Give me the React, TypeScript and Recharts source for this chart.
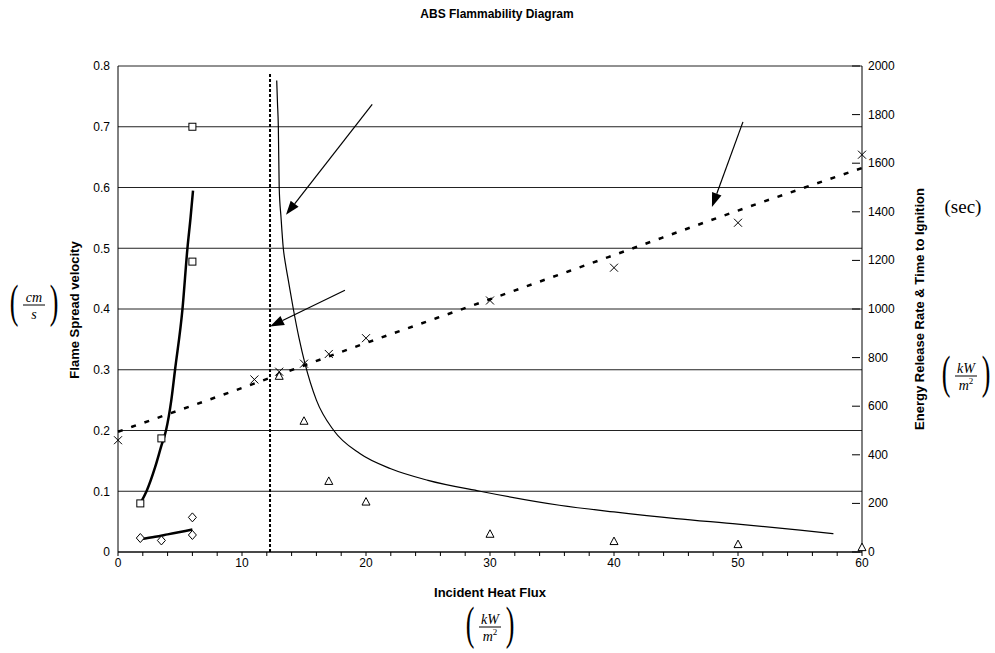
import React from "react";
import {
  ComposedChart,
  Line,
  Scatter,
  XAxis,
  YAxis,
  CartesianGrid,
  ReferenceLine,
} from "recharts";

// flame spread velocity (cm/s), left axis
const squareX = [1.8, 3.5, 6, 6];
const squareV = [0.08, 0.187, 0.478, 0.7];
const squareFitX = [1.8, 2.3, 3.0, 3.5, 3.87, 4.3, 4.6, 5.2, 5.6, 5.85, 6.05];
const squareFitV = [0.08, 0.1, 0.14, 0.175, 0.2, 0.25, 0.3, 0.4, 0.5, 0.55, 0.595];

const diamondX = [1.8, 3.5, 6, 6];
const diamondV = [0.023, 0.019, 0.028, 0.057];
const diamondFitX = [1.8, 3, 4, 5, 6];
const diamondFitV = [0.021, 0.025, 0.029, 0.033, 0.037];

const triX = [13, 15, 17, 20, 30, 40, 50, 60];
const triV = [0.29, 0.216, 0.117, 0.083, 0.03, 0.018, 0.013, 0.008];
const thinX = [12.8, 12.86, 12.93, 13.0, 13.15, 13.33, 13.5, 13.73, 14.14, 14.6, 15.08, 16, 17.4, 19.5, 22, 25, 29.2, 35.6, 40, 45, 50, 55, 57.7];
const thinV = [0.776, 0.74, 0.7, 0.6, 0.55, 0.5, 0.475, 0.448, 0.4, 0.352, 0.31, 0.25, 0.2, 0.162, 0.137, 0.118, 0.1, 0.077, 0.066, 0.055, 0.046, 0.036, 0.03];

// energy release rate (kW/m2), right axis
const crossX = [0, 11, 13, 15, 17, 20, 30, 40, 50, 60];
const crossV = [460, 710, 742, 775, 815, 880, 1035, 1170, 1355, 1635];
const dashFitX = [0, 10, 20, 30, 40, 50, 60];
const dashFitV = [495, 675, 860, 1040, 1222, 1405, 1580];

const criticalFlux = 12.26;
const criticalTop = 0.79;

// annotation arrows [x1, y1, x2, y2] in data units (left axis)
const arrows = [
  [20.5, 0.737, 13.55, 0.555],
  [18.3, 0.431, 12.26, 0.371],
  [50.4, 0.708, 47.9, 0.568],
];

const xTicks = Array.from({ length: 31 }, (_, i) => i * 2);
const leftTicks = [0, 0.1, 0.2, 0.3, 0.4, 0.5, 0.6, 0.7, 0.8];
const rightTicks = [0, 200, 400, 600, 800, 1000, 1200, 1400, 1600, 1800, 2000];

const zip = (xs: number[], vs: number[]) => xs.map((x, i) => ({ x, v: vs[i] }));

const SANS = "'Liberation Sans', Arial, sans-serif";
const SERIF = "'Liberation Serif', 'Times New Roman', serif";

const Square = (p: any) => (
  <rect x={p.cx - 3.5} y={p.cy - 3.5} width={7} height={7} fill="#fff" stroke="#000" strokeWidth={1} />
);
const Diamond = (p: any) => (
  <polygon
    points={`${p.cx},${p.cy - 4.5} ${p.cx + 4},${p.cy} ${p.cx},${p.cy + 4.5} ${p.cx - 4},${p.cy}`}
    fill="#fff"
    stroke="#000"
    strokeWidth={1}
  />
);
const Triangle = (p: any) => (
  <polygon
    points={`${p.cx},${p.cy - 4} ${p.cx + 4},${p.cy + 3.5} ${p.cx - 4},${p.cy + 3.5}`}
    fill="#fff"
    stroke="#000"
    strokeWidth={1}
  />
);
const Cross = (p: any) => (
  <g stroke="#000" strokeWidth={1}>
    <line x1={p.cx - 4} y1={p.cy - 4} x2={p.cx + 4} y2={p.cy + 4} />
    <line x1={p.cx - 4} y1={p.cy + 4} x2={p.cx + 4} y2={p.cy - 4} />
  </g>
);

const Arrow = (p: any) => {
  const { x1, y1, x2, y2 } = p;
  const a = Math.atan2(y2 - y1, x2 - x1);
  const L = 14;
  const w = 5;
  const bx = x2 - L * Math.cos(a);
  const by = y2 - L * Math.sin(a);
  const nx = -Math.sin(a) * w;
  const ny = Math.cos(a) * w;
  return (
    <g>
      <line x1={x1} y1={y1} x2={bx} y2={by} stroke="#000" strokeWidth={1.2} />
      <polygon points={`${x2},${y2} ${bx + nx},${by + ny} ${bx - nx},${by - ny}`} fill="#000" />
    </g>
  );
};

const RightTick = (p: any) => {
  const { x, y, payload } = p;
  const ax = x - 8;
  return (
    <g>
      <line x1={ax - 4} y1={y} x2={ax + 4} y2={y} stroke="#000" />
      <text x={x + 4} y={y} dy={4} fontSize={12} fontFamily={SANS} fill="#000" textAnchor="start">
        {payload.value}
      </text>
    </g>
  );
};

const Frac = ({ cx, cy, top, bot, w }: any) => (
  <g fontFamily={SERIF} fill="#000">
    <text transform={`translate(${cx - w},${cy}) scale(1,1.75)`} y={6} fontSize={26} textAnchor="middle">(</text>
    <text transform={`translate(${cx + w},${cy}) scale(1,1.75)`} y={6} fontSize={26} textAnchor="middle">)</text>
    <text x={cx} y={cy - 4} fontSize={14} fontStyle="italic" textAnchor="middle">{top}</text>
    <line x1={cx - 11} y1={cy - 1} x2={cx + 11} y2={cy - 1} stroke="#000" strokeWidth={1} />
    <text x={cx} y={cy + 13} fontSize={14} fontStyle="italic" textAnchor="middle">{bot}</text>
  </g>
);

const M2 = (
  <tspan>
    m<tspan dy={-6} fontSize={9} fontStyle="normal">2</tspan>
  </tspan>
);

export default function App() {
  const W = 995;
  const H = 653;
  return (
    <div style={{ position: "absolute", left: 0, top: 0, width: W, height: H, background: "#fff" }}>
      <ComposedChart width={W} height={H} margin={{ top: 66, right: 83, bottom: 71, left: 68 }}>
        <CartesianGrid yAxisId="left" vertical={false} stroke="#222" strokeWidth={1} />
        <XAxis
          type="number"
          dataKey="x"
          domain={[0, 60]}
          ticks={xTicks}
          interval={0}
          tickFormatter={(v: number) => (v % 10 === 0 ? String(v) : "")}
          tickSize={4}
          height={30}
          axisLine={{ stroke: "#000" }}
          tickLine={{ stroke: "#000" }}
          tick={{ fill: "#000", fontSize: 12, fontFamily: SANS }}
        />
        <YAxis
          yAxisId="left"
          dataKey="v"
          type="number"
          domain={[0, 0.8]}
          ticks={leftTicks}
          interval={0}
          width={50}
          tickLine={false}
          axisLine={{ stroke: "#000" }}
          tick={{ fill: "#000", fontSize: 12, fontFamily: SANS }}
        />
        <YAxis
          yAxisId="right"
          dataKey="v"
          type="number"
          orientation="right"
          domain={[0, 2000]}
          ticks={rightTicks}
          interval={0}
          width={50}
          tickLine={false}
          tickSize={0}
          axisLine={{ stroke: "#000" }}
          tick={<RightTick />}
        />
        <ReferenceLine
          yAxisId="left"
          segment={[{ x: criticalFlux, y: 0 }, { x: criticalFlux, y: criticalTop }]}
          stroke="#000"
          strokeWidth={2}
          strokeDasharray="3 2"
        />
        {arrows.map((a, i) => (
          <ReferenceLine
            key={i}
            yAxisId="left"
            segment={[{ x: a[0], y: a[1] }, { x: a[2], y: a[3] }]}
            shape={<Arrow />}
          />
        ))}
        <Line data={zip(squareFitX, squareFitV)} yAxisId="left" dataKey="v" type="monotone" dot={false} stroke="#000" strokeWidth={2.5} isAnimationActive={false} />
        <Line data={zip(diamondFitX, diamondFitV)} yAxisId="left" dataKey="v" type="monotone" dot={false} stroke="#000" strokeWidth={2.5} isAnimationActive={false} />
        <Line data={zip(thinX, thinV)} yAxisId="left" dataKey="v" type="monotone" dot={false} stroke="#000" strokeWidth={1.2} isAnimationActive={false} />
        <Line data={zip(dashFitX, dashFitV)} yAxisId="right" dataKey="v" type="monotone" dot={false} stroke="#000" strokeWidth={2.5} strokeDasharray="5 9" isAnimationActive={false} />
        <Scatter data={zip(squareX, squareV)} yAxisId="left" dataKey="v" shape={Square} isAnimationActive={false} />
        <Scatter data={zip(diamondX, diamondV)} yAxisId="left" dataKey="v" shape={Diamond} isAnimationActive={false} />
        <Scatter data={zip(triX, triV)} yAxisId="left" dataKey="v" shape={Triangle} isAnimationActive={false} />
        <Scatter data={zip(crossX, crossV)} yAxisId="right" dataKey="v" shape={Cross} isAnimationActive={false} />
      </ComposedChart>
      <svg width={W} height={H} style={{ position: "absolute", left: 0, top: 0, pointerEvents: "none" }}>
        <text x={497} y={18} fontSize={12} fontWeight="bold" fontFamily={SANS} textAnchor="middle">
          ABS Flammability Diagram
        </text>
        <text x={490} y={597} fontSize={13} fontWeight="bold" fontFamily={SANS} textAnchor="middle">
          Incident Heat Flux
        </text>
        <text transform="translate(79,310) rotate(-90)" fontSize={13} fontWeight="bold" fontFamily={SANS} textAnchor="middle">
          Flame Spread velocity
        </text>
        <text transform="translate(924,309) rotate(-90)" fontSize={13} fontWeight="bold" fontFamily={SANS} textAnchor="middle">
          Energy Release Rate &amp; Time to Ignition
        </text>
        <text x={963} y={213} fontSize={19} fontFamily={SERIF} textAnchor="middle">
          (sec)
        </text>
        <Frac cx={34} cy={306} w={20} top="cm" bot="s" />
        <Frac cx={966} cy={377} w={20} top="kW" bot={M2} />
        <Frac cx={490} cy={628} w={20} top="kW" bot={M2} />
      </svg>
    </div>
  );
}
